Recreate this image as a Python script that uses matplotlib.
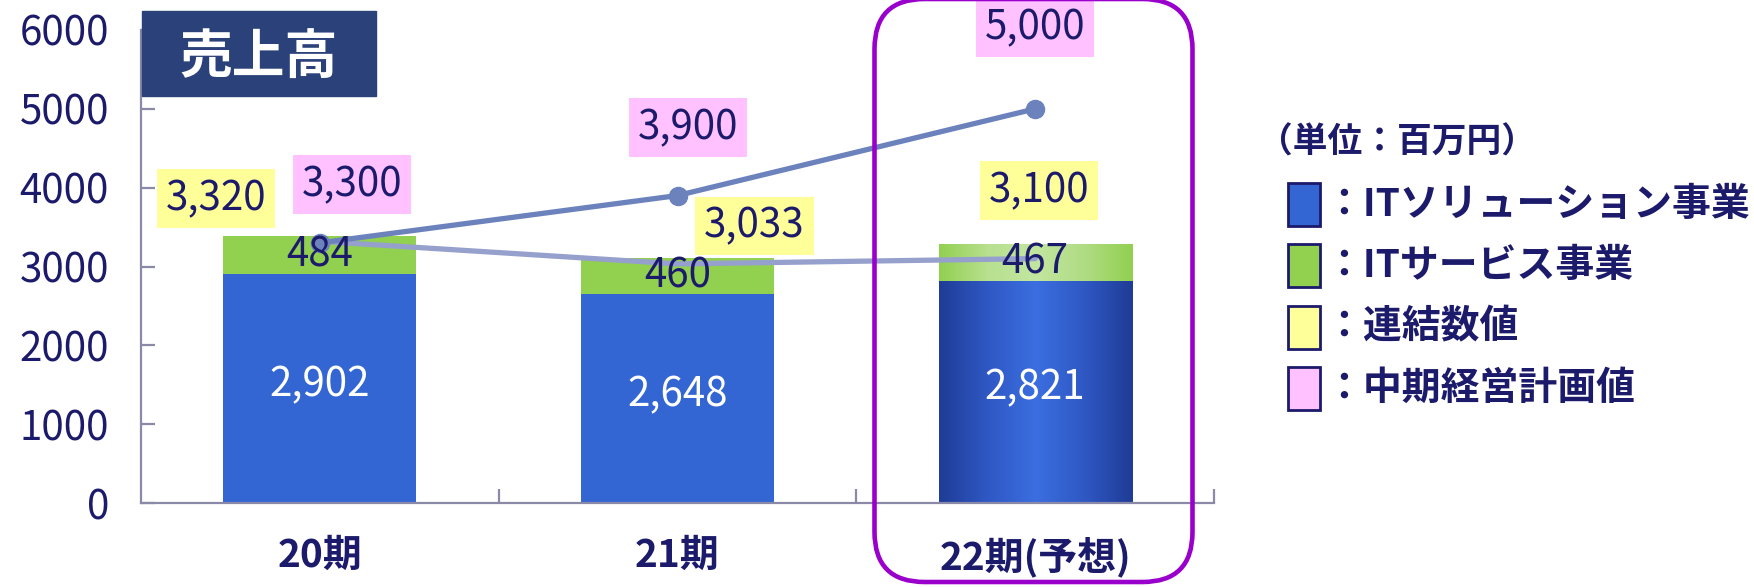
import numpy as np
import matplotlib.pyplot as plt
from matplotlib.patches import FancyBboxPatch, Rectangle
from matplotlib.colors import LinearSegmentedColormap
from matplotlib.transforms import IdentityTransform

plt.rcParams['font.family'] = ['Noto Sans CJK JP', 'DejaVu Sans']

# データ (単位: 百万円)
periods = ['20期', '21期', '22期(予想)']
it_solution = [2902, 2648, 2821]
it_service = [484, 460, 467]
consolidated = [3320, 3033, 3100]
plan = [3300, 3900, 5000]
title = '売上高'
unit_label = '（単位：百万円）'
legend_labels = ['：ITソリューション事業', '：ITサービス事業', '：連結数値', '：中期経営計画値']

# 色
navy = '#1c1a6b'
blue = '#3366d3'
green = '#92d050'
yellow = '#ffff99'
pink = '#ffc1ff'
axis_gray = '#8a8aa8'
legend_colors = [blue, green, yellow, pink]

W, H = 1754, 587
fig = plt.figure(figsize=(W / 100, H / 100), dpi=100)
ax = fig.add_axes([141 / W, 84 / H, 1073 / W, 473 / H])

x = np.arange(len(periods))
bw = 0.54
bars1 = ax.bar(x, it_solution, bw, color=blue, zorder=2)
bars2 = ax.bar(x, it_service, bw, bottom=it_solution, color=green, zorder=2)


# 予想の棒はグラデーション
def gradient(bar, colors):
    cmap = LinearSegmentedColormap.from_list('g', colors)
    x0, y0 = bar.get_x(), bar.get_y()
    ax.imshow(np.linspace(0, 1, 256)[None, :], cmap=cmap, aspect='auto', interpolation='bilinear',
              extent=[x0, x0 + bar.get_width(), y0, y0 + bar.get_height()], zorder=2.5)


gradient(bars1[2], ['#1f3c96', '#2f58c4', '#3b6ee0', '#2f58c4', '#1f3c96'])
gradient(bars2[2], ['#92d050', '#b8e08f', '#c2e6a0', '#b0dc84', '#92d050'])

# 折れ線
ax.plot(x, consolidated, color='#96a0cc', lw=3.8, zorder=3, solid_capstyle='round')
ax.plot(x, plan, color='#6b82bd', lw=3.8, marker='o', ms=13, zorder=3.2)

# 棒の数値
for i in range(len(x)):
    ax.text(x[i], it_solution[i] / 2 + 50, f'{it_solution[i]:,}', color='white',
            ha='center', va='center', fontsize=29, zorder=4)
    ax.text(x[i], it_solution[i] + it_service[i] / 2, f'{it_service[i]:,}', color=navy,
            ha='center', va='center', fontsize=29, zorder=4)

# 連結数値・計画値のラベル
cons_off = [(-0.29, 540), (0.215, 480), (0.01, 860)]
plan_off = [(0.09, 736), (0.03, 860), (0.0, 1030)]
for i in range(len(x)):
    dx, dy = cons_off[i]
    ax.text(x[i] + dx, consolidated[i] + dy, f'{consolidated[i]:,}', color=navy, ha='center',
            va='center', fontsize=29, zorder=4,
            bbox=dict(boxstyle='square,pad=0.22', fc=yellow, ec='none'))
    dx, dy = plan_off[i]
    ax.text(x[i] + dx, plan[i] + dy, f'{plan[i]:,}', color=navy, ha='center',
            va='center', fontsize=29, zorder=4,
            bbox=dict(boxstyle='square,pad=0.22', fc=pink, ec='none'))

# 軸
ax.set_xlim(-0.5, 2.5)
ax.set_ylim(0, 6000)
for s in ['top', 'right']:
    ax.spines[s].set_visible(False)
for s in ['left', 'bottom']:
    ax.spines[s].set_color(axis_gray)
    ax.spines[s].set_linewidth(1.6)
ax.set_yticks(range(0, 6001, 1000))
ax.tick_params(axis='y', direction='in', length=10, width=1.6, color=axis_gray,
               labelsize=29, labelcolor=navy, pad=23)
ax.set_xticks(x, periods, fontweight='bold')
ax.tick_params(axis='x', length=0, labelsize=28, labelcolor=navy, pad=24)
ax.set_xticks([0.5, 1.5, 2.5], minor=True)
ax.tick_params(axis='x', which='minor', direction='in', length=10, width=1.6, color=axis_gray)

# タイトル
fig.add_artist(Rectangle((142 / W, 1 - 96 / H), 234 / W, 85 / H, transform=fig.transFigure,
                         color='#2a417a', zorder=5))
fig.text(259 / W, 1 - 57 / H, title, color='white', fontsize=38, fontweight='bold',
         ha='center', va='center', zorder=6)

# 予想を囲む枠
fig.add_artist(FancyBboxPatch((874.5, 5), 318, 583, boxstyle='round,pad=0,rounding_size=50',
                              transform=IdentityTransform(), fc='none', ec='#9900cc', lw=3.3,
                              zorder=6))

# 凡例
fig.text(1258 / W, 1 - 142 / H, unit_label, color=navy, fontsize=25, fontweight='bold',
         ha='left', va='center')
for i, (lab, c) in enumerate(zip(legend_labels, legend_colors)):
    yc = 204.5 + 61.3 * i
    fig.add_artist(Rectangle((1288 / W, 1 - (yc + 21.5) / H), 32 / W, 43 / H,
                             transform=fig.transFigure, fc=c, ec=navy, lw=2))
    fig.text(1324 / W, 1 - yc / H, lab, color=navy, fontsize=28, fontweight='bold',
             ha='left', va='center')

fig.savefig('out.png', dpi=100)
